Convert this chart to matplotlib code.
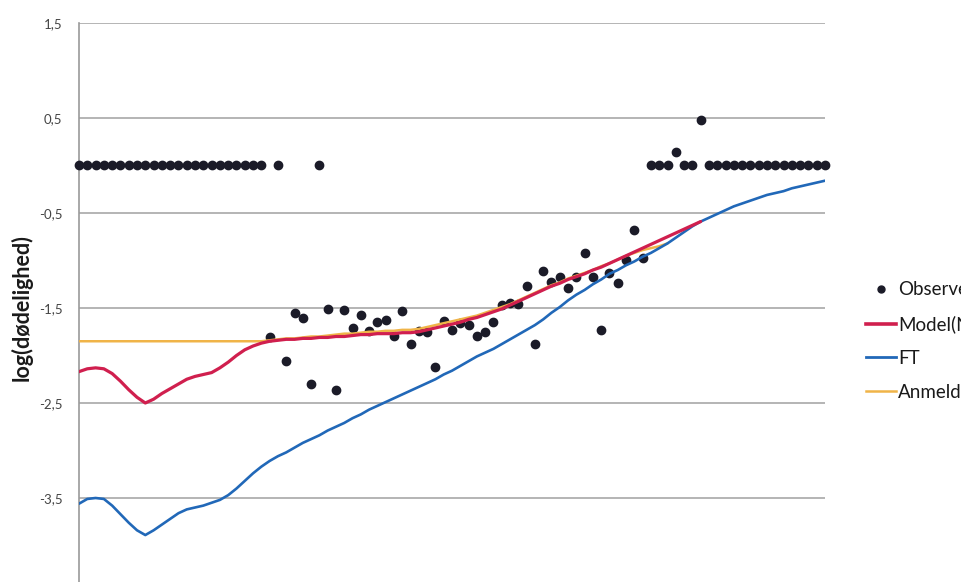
import matplotlib
matplotlib.use("Agg")
import matplotlib.pyplot as plt
from matplotlib.lines import Line2D
from matplotlib.ticker import FuncFormatter

# ---- data -------------------------------------------------------------
ages = list(range(0, 91))

observed = (
    [0.0] * 23
    + [-1.81, 0.0, -2.06, -1.55, -1.61, -2.30, 0.0, -1.51, -2.36, -1.52,   # 23-32
       -1.71, -1.57, -1.74, -1.65, -1.63, -1.79, -1.53, -1.88, -1.74, -1.75,  # 33-42
       -2.12, -1.64, -1.73, -1.66, -1.68, -1.80, -1.75, -1.65, -1.47, -1.45,  # 43-52
       -1.46, -1.27, -1.88, -1.11, -1.23, -1.17, -1.29, -1.17, -0.92, -1.17,  # 53-62
       -1.73, -1.13, -1.24, -0.99, -0.68, -0.97,                              # 63-68
       0.0, 0.0, 0.0, 0.14, 0.0, 0.0, 0.48]                                   # 69-75
    + [0.0] * 15                                                              # 76-90
)

model_ages = list(range(0, 76))
model = [
    -2.17, -2.14, -2.13, -2.14, -2.19, -2.27, -2.36, -2.44, -2.50, -2.46,
    -2.40, -2.35, -2.30, -2.25, -2.22, -2.20, -2.18, -2.13, -2.07, -2.00,
    -1.94, -1.90, -1.87, -1.85, -1.84, -1.83, -1.83, -1.82, -1.82, -1.81,
    -1.81, -1.80, -1.80, -1.79, -1.78, -1.78, -1.77, -1.77, -1.77, -1.76,
    -1.76, -1.75, -1.73, -1.71, -1.69, -1.67, -1.65, -1.62, -1.60, -1.57,
    -1.54, -1.51, -1.47, -1.43, -1.39, -1.35, -1.31, -1.27, -1.24, -1.20,
    -1.17, -1.14, -1.10, -1.07, -1.03, -0.99, -0.95, -0.91, -0.87, -0.83,
    -0.79, -0.75, -0.71, -0.67, -0.63, -0.59,
]

ft = [
    -3.56, -3.51, -3.50, -3.51, -3.58, -3.67, -3.76, -3.84, -3.89, -3.84,
    -3.78, -3.72, -3.66, -3.62, -3.60, -3.58, -3.55, -3.52, -3.47, -3.40,
    -3.32, -3.24, -3.17, -3.11, -3.06, -3.02, -2.97, -2.92, -2.88, -2.84,
    -2.79, -2.75, -2.71, -2.66, -2.62, -2.57, -2.53, -2.49, -2.45, -2.41,
    -2.37, -2.33, -2.29, -2.25, -2.20, -2.16, -2.11, -2.06, -2.01, -1.97,
    -1.93, -1.88, -1.83, -1.78, -1.73, -1.68, -1.62, -1.55, -1.49, -1.42,
    -1.36, -1.31, -1.25, -1.20, -1.14, -1.10, -1.05, -1.01, -0.96, -0.92,
    -0.87, -0.82, -0.76, -0.70, -0.64, -0.59, -0.55, -0.51, -0.47, -0.43,
    -0.40, -0.37, -0.34, -0.31, -0.29, -0.27, -0.24, -0.22, -0.20, -0.18,
    -0.16,
]

anmeldt_ages = list(range(0, 72))
anmeldt = (
    [-1.85] * 23
    + [-1.84, -1.83, -1.82, -1.82, -1.81, -1.80, -1.80, -1.79, -1.78, -1.77,
       -1.77, -1.76, -1.75, -1.75, -1.74, -1.74, -1.73, -1.73, -1.72, -1.70,
       -1.68, -1.66, -1.64, -1.62, -1.60, -1.58, -1.55, -1.52, -1.49, -1.46,
       -1.42, -1.38, -1.34, -1.30, -1.26, -1.23, -1.19, -1.16, -1.13, -1.10,
       -1.06, -1.03, -0.99, -0.95, -0.92, -0.89, -0.87, -0.85, -0.82]
)

yticks = [1.5, 0.5, -0.5, -1.5, -2.5, -3.5]
labels = ["Observeret", "Model(NB)", "FT", "Anmeldt"]

# ---- style ------------------------------------------------------------
W, H = 962, 582
fig = plt.figure(figsize=(W / 100, H / 100), dpi=100)
ax = fig.add_axes([79 / W, 0, (825 - 79) / W, (H - 23) / H])

c_obs = "#1b1b28"
c_model = "#d01f4e"
c_ft = "#2168b8"
c_anm = "#f0b448"

ax.plot(ages, observed, linestyle="none", marker="o", markersize=6,
        color=c_obs, clip_on=False, zorder=3)
ax.plot(anmeldt_ages, anmeldt, color=c_anm, lw=1.8, zorder=4,
        solid_capstyle="round")
ax.plot(model_ages, model, color=c_model, lw=2.3, zorder=5,
        solid_capstyle="round")
ax.plot(ages, ft, color=c_ft, lw=1.9, zorder=4, solid_capstyle="round")

ax.set_xlim(0, 90)
ax.set_ylim(0.5 - (H - 118) / 95, 1.5)
ax.set_yticks(yticks)
ax.yaxis.set_major_formatter(FuncFormatter(lambda v, p: f"{v:.1f}".replace(".", ",")))
ax.set_xticks([])
ax.grid(axis="y", color="#a8a8a8", lw=1.2)
ax.set_axisbelow(True)
for s in ["top", "right", "bottom"]:
    ax.spines[s].set_visible(False)
ax.spines["left"].set_color("#9a9a9a")
ax.spines["left"].set_linewidth(1.2)
ax.tick_params(axis="y", length=0, pad=12, labelsize=9.5, labelcolor="#444444")
for t in ax.get_yticklabels():
    t.set_fontfamily("Lato")

fig.text(22 / W, 1 - 308 / H, "log(dødelighed)", rotation=90, ha="center",
         va="center", fontsize=15.5, fontweight="bold", family="Lato",
         color="#1a1a1a")

handles = [
    Line2D([], [], linestyle="none", marker="o", markersize=5, color=c_obs),
    Line2D([], [], color=c_model, lw=2.6),
    Line2D([], [], color=c_ft, lw=2.0),
    Line2D([], [], color=c_anm, lw=1.8),
]
fig.legend(handles, labels, loc="upper left",
           bbox_to_anchor=(857 / W, 1 - 272 / H), frameon=False,
           borderpad=0, handlelength=1.6, handletextpad=0.1,
           labelspacing=0.9, prop={"family": "Lato", "size": 13.5},
           labelcolor="#1a1a1a")

fig.savefig("out.png", dpi=100)
